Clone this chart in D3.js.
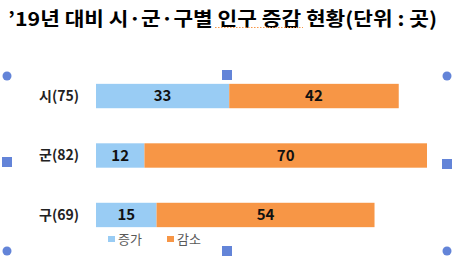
<!DOCTYPE html>
<html>
<head>
<meta charset="utf-8">
<script src="https://cdn.jsdelivr.net/npm/d3@7"></script>
<style>
  body { margin: 0; background: #fff; }
  svg { display: block; font-family: "Noto Sans CJK KR", "Noto Sans", sans-serif; }
</style>
</head>
<body>
<svg id="chart" width="460" height="270"></svg>
<script>
const categories = ["시(75)", "군(82)", "구(69)"];
const increase = [33, 12, 15];
const decrease = [42, 70, 54];
const seriesNames = ["증가", "감소"];
const colors = ["#99CCF4", "#F79646"];

const svg = d3.select("#chart");

// title
svg.append("text")
    .attr("x", 8).attr("y", 26)
    .attr("font-size", 19).attr("font-weight", "bold")
    .attr("fill", "#000")
    .attr("textLength", 429).attr("lengthAdjust", "spacingAndGlyphs")
    .text("’19년 대비 시·군·구별 인구 증감 현황(단위 : 곳)");
svg.append("line")
    .attr("x1", 215).attr("x2", 303).attr("y1", 27.5).attr("y2", 27.5)
    .attr("stroke", "#F79646").attr("stroke-width", 1.2)
    .attr("stroke-dasharray", "1.5,1.5");

const x = d3.scaleLinear().domain([0, 82]).range([96, 427]);
const y = d3.scaleBand().domain(categories).range([66, 245]).paddingInner(0.59).paddingOuter(0.3);

const rows = categories.map((c, i) => ({cat: c, segs: [
    {k: 0, x0: 0, x1: increase[i]},
    {k: 1, x0: increase[i], x1: increase[i] + decrease[i]}
]}));

const g = svg.selectAll("g.row").data(rows).enter().append("g").attr("class", "row");

g.selectAll("rect").data(d => d.segs.map(s => ({...s, cat: d.cat}))).enter().append("rect")
    .attr("x", d => x(d.x0))
    .attr("width", d => x(d.x1) - x(d.x0))
    .attr("y", d => y(d.cat))
    .attr("height", y.bandwidth())
    .attr("fill", d => colors[d.k]);

g.selectAll("text.val").data(d => d.segs.map(s => ({...s, cat: d.cat}))).enter().append("text")
    .attr("class", "val")
    .attr("x", d => (x(d.x0) + x(d.x1)) / 2)
    .attr("y", d => y(d.cat) + y.bandwidth() / 2)
    .attr("dy", "0.35em")
    .attr("text-anchor", "middle")
    .attr("font-size", 15).attr("font-weight", "bold")
    .attr("fill", "#111")
    .text(d => d.x1 - d.x0);

svg.selectAll("text.cat").data(categories).enter().append("text")
    .attr("class", "cat")
    .attr("x", 79)
    .attr("y", d => y(d) + y.bandwidth() / 2)
    .attr("dy", "0.35em")
    .attr("text-anchor", "end")
    .attr("font-size", 14).attr("font-weight", "bold")
    .attr("fill", "#222")
    .text(d => d);

// legend
const legX = [108, 167];
const leg = svg.selectAll("g.leg").data(seriesNames).enter().append("g").attr("class", "leg")
    .attr("transform", (d, i) => `translate(${legX[i]},236)`);
leg.append("rect").attr("width", 7).attr("height", 6).attr("fill", (d, i) => colors[i]);
leg.append("text").attr("x", 10).attr("y", 3).attr("dy", "0.35em")
    .attr("font-size", 13).attr("fill", "#595959").text(d => d);

// selection handles
const handleCircles = [[7, 76], [447, 76], [7, 251], [447, 251]];
const handleSquares = [[227, 75], [7, 162], [447, 164], [227, 251]];
svg.selectAll("circle.h").data(handleCircles).enter().append("circle")
    .attr("cx", d => d[0]).attr("cy", d => d[1]).attr("r", 4.5).attr("fill", "#6384D8");
svg.selectAll("rect.h").data(handleSquares).enter().append("rect")
    .attr("x", d => d[0] - 5).attr("y", d => d[1] - 5).attr("width", 10).attr("height", 10)
    .attr("fill", "#6384D8");
</script>
</body>
</html>
